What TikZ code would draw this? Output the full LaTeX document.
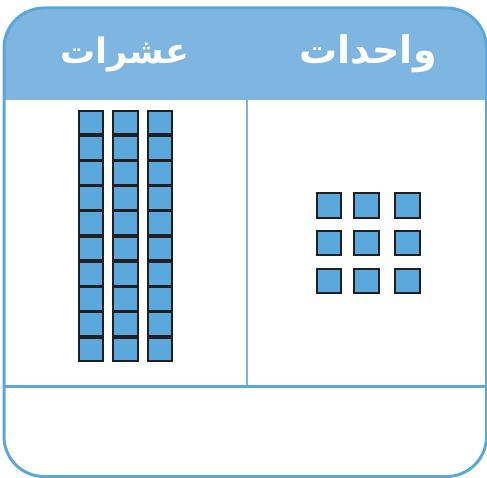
\documentclass[tikz,border=0pt]{standalone}
\usepackage{fontspec}
\newfontfamily\arabicfont[Script=Arabic]{DejaVu Sans}
\TeXXeTstate=1
\definecolor{hdr}{HTML}{7EB5E1}
\definecolor{brd}{HTML}{5AA7DC}
\definecolor{dvd}{HTML}{7DB4E0}
\definecolor{cube}{HTML}{5BA8DC}
\definecolor{ink}{HTML}{231F20}
\tikzset{
  tencube/.style={draw=ink, fill=cube, line width=2pt, inner sep=0pt, minimum width=24.5pt, minimum height=23.8pt},
  onecube/.style={draw=ink, fill=cube, line width=2pt, inner sep=0pt, minimum size=24.5pt},
  headtxt/.style={text=white, font=\arabicfont\bfseries\fontsize{38}{44}\selectfont, inner sep=0pt, anchor=base}
}
\begin{document}
\begin{tikzpicture}[x=1pt,y=-1pt]
\useasboundingbox (0,0) rectangle (487,478);
\begin{scope}
  \clip[rounded corners=40pt] (4,8) rectangle (486.5,476.5);
  \fill[hdr] (0,0) rectangle (487,100);
\end{scope}
\coordinate (vt) at (246.7,100);
\coordinate (vb) at (246.7,386.5);
\coordinate (hl) at (4,386.5);
\coordinate (hr) at (486.5,386.5);
\draw[dvd, line width=2pt] (vt) -- (vb);
\draw[brd, line width=2.5pt] (hl) -- (hr);
\draw[brd, line width=3pt, rounded corners=40pt] (4,8) rectangle (486.5,476.5);
\node[headtxt, font=\arabicfont\bfseries\fontsize{35}{42}\selectfont] (tens) at (125,64) {\beginR عشرات\endR};
\node[headtxt] (ones) at (368,64) {\beginR واحدات\endR};
\foreach \c/\x in {1/91, 2/125.7, 3/160.2} {
  \foreach \r in {0,...,9} {
    \node[tencube] (t\c-\r) at (\x, {122.6+25.2*\r}) {};
  }
}
\foreach \c/\x in {1/329, 2/366.7, 3/407.5} {
  \foreach \r/\y in {1/205.3, 2/243.2, 3/281} {
    \node[onecube] (o\c-\r) at (\x,\y) {};
  }
}
\end{tikzpicture}
\end{document}
